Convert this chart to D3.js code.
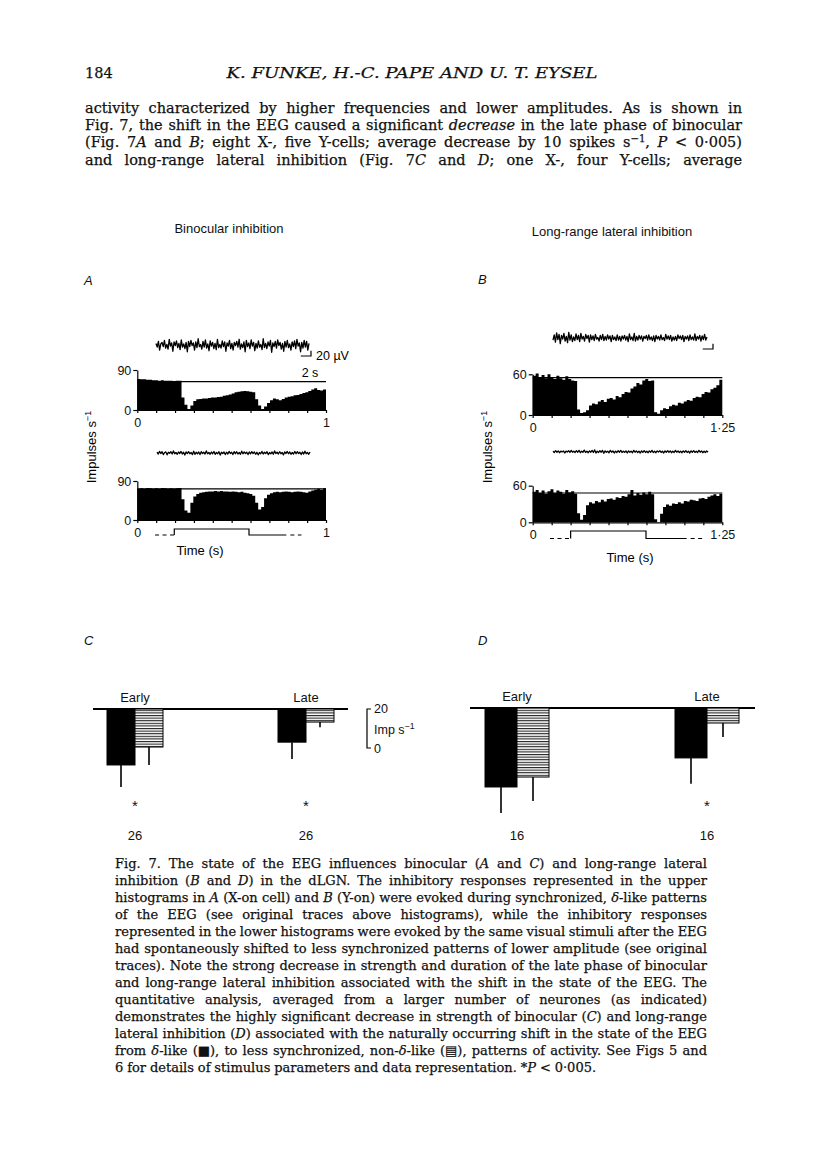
<!DOCTYPE html>
<html>
<head>
<meta charset="utf-8">
<script src="https://cdn.jsdelivr.net/npm/d3@7"></script>
<style>
  body { margin: 0; background: #fff; }
  svg { display: block; }
</style>
</head>
<body>
<svg id="page" width="816" height="1169"></svg>
<script>
// ---------------- page text ----------------
const pageNumber = "184";
const runningHead = "K. FUNKE, H.-C. PAPE AND U. T. EYSEL";
const bodyLines = [
  "activity characterized by higher frequencies and lower amplitudes. As is shown in",
  "Fig. 7, the shift in the EEG caused a significant _decrease_ in the late phase of binocular",
  "(Fig. 7_A_ and _B_; eight X-, five Y-cells; average decrease by 10 spikes s^−1^, _P_ < 0·005)",
  "and long-range lateral inhibition (Fig. 7_C_ and _D_; one X-, four Y-cells; average"
];
const captionLines = [
  "Fig. 7. The state of the EEG influences binocular (_A_ and _C_) and long-range lateral",
  "inhibition (_B_ and _D_) in the dLGN. The inhibitory responses represented in the upper",
  "histograms in _A_ (X-on cell) and _B_ (Y-on) were evoked during synchronized, _δ_-like patterns",
  "of the EEG (see original traces above histograms), while the inhibitory responses",
  "represented in the lower histograms were evoked by the same visual stimuli after the EEG",
  "had spontaneously shifted to less synchronized patterns of lower amplitude (see original",
  "traces). Note the strong decrease in strength and duration of the late phase of binocular",
  "and long-range lateral inhibition associated with the shift in the state of the EEG. The",
  "quantitative analysis, averaged from a larger number of neurones (as indicated)",
  "demonstrates the highly significant decrease in strength of binocular (_C_) and long-range",
  "lateral inhibition (_D_) associated with the naturally occurring shift in the state of the EEG",
  "from _δ_-like (■), to less synchronized, non-_δ_-like (▤), patterns of activity. See Figs 5 and",
  "6 for details of stimulus parameters and data representation. *_P_ < 0·005."
];

// ---------------- panels A / B : histograms (impulses s-1, 64 bins per sweep) ----------------
const binoDeltaHist = [70,69,69,68,68,67,67,66,67,66,66,66,65,66,66,28,12,2,10,20,24,25,26,26,27,28,28,29,30,32,33,35,
  37,40,41,42,43,42,41,40,24,10,2,8,16,22,26,24,22,25,28,30,31,33,34,36,38,40,43,46,49,45,44,46];
const binoNonDeltaHist = [72,73,72,74,73,72,73,72,74,73,72,73,72,73,74,48,22,17,40,54,60,63,64,65,66,66,67,66,67,66,66,65,
  66,65,64,65,63,62,60,56,40,24,30,50,58,62,64,65,64,65,66,65,64,65,66,65,64,63,66,68,70,72,70,73];
const lateralDeltaHist = [58,61,56,59,54,60,55,53,58,54,52,57,53,51,50,8,3,4,7,14,17,16,20,22,19,24,25,23,28,26,31,34,
  33,39,42,47,45,51,53,50,51,4,2,7,10,9,13,15,14,18,17,20,22,21,25,27,26,31,34,33,38,40,44,52];
const lateralNonDeltaHist = [50,53,48,52,47,51,54,48,52,50,47,53,49,51,47,15,4,12,28,33,31,35,33,37,34,38,39,37,41,40,43,42,
  46,53,44,48,45,49,46,50,46,5,0,14,25,29,27,31,30,33,31,35,34,37,36,35,39,40,38,42,44,46,43,47];
const binoRefLevels = [64, 72];
const lateralRefLevels = [55, 48];

// EEG traces (µV)
const binoDeltaEEG = [6,-8,14,-20,4,10,-6,18,-12,2,-16,22,-4,8,-24,12,-2,16,-10,6,-18,20,-8,4,-14,10,-26,14,-6,18,-2,8,
  -20,12,-10,24,-6,2,-16,14,-8,20,-12,4,-22,16,-4,10,-14,6,-18,22,-10,2,-12,16,-6,12,-24,8,-4,18,-14,6,-20,10,-2,14,-8,22,
  -16,4,-10,12,-26,18,-6,8,-14,20,-4,10,-22,6,-12,16,-8,2,-18,24,-10,6,-14,12,-4,18,-28,8,-6,14,-12,20,-2,10,-16,6,-24,14,
  -8,18,-10,4,-20,12,-6,16,-14,22,-4,8,-26,10,-12,18,-8,14,-20,6];
const binoNonDeltaEEG = [3,-4,6,-2,5,-6,2,4,-7,3,-1,5,-4,8,-3,2,-5,4,-2,6,-4,3,-8,4,-2,5,-3,2,-6,7,-5,3,-3,4,-6,5,-2,3,
  -4,8,-3,2,-5,4,-3,6,-5,2,-3,5,-8,3,-2,4,-6,3,-4,6,-2,3,-6,5,-3,5,-4,2,-5,7,-3,4,-2,3,-6,4,-3,5,-2,4,-5,3,-7,2,-3,6,-4,3,
  -2,5,-6,2,-3,4,-5,8,-2,3,-4,5,-3,2,-7,4,-2,6,-3,4,-5,2,-4,6,-3,5,-2,3,-6,4,-4,7,-3,2,-5,4];
const lateralDeltaEEG = [-8,12,-16,20,-6,14,-22,10,-4,18,-12,6,-18,22,-8,12,-14,4,-10,16,-6,10,-14,18,-4,6,-12,14,-2,10,
  -16,12,-6,8,-10,14,-4,2,-12,10,-6,14,-10,6,-8,12,-4,8,-14,10,-6,4,-10,12,-8,6,-12,8,-4,10,-8,6,-14,16,-6,4,-10,18,-12,6,
  -8,10,-4,8,-12,6,-2,10,-8,12,-6,4,-10,8,-14,10,-4,6,-8,12,-6,2,-10,14,-4,8,-6,10,-12,4,-8,6,-10,12,-2,8,-6,10,-14,6,-4,8,
  -10,12,-6,4,-8,16,-10,6,-4,10,-12,8,-6,14,-8,4];
const lateralNonDeltaEEG = [2,-3,4,-2,3,-4,2,-1,3,-5,2,-1,4,-3,5,-2,2,-3,4,-2,5,-4,2,-2,6,-3,2,-4,3,-2,5,-3,7,-5,2,-3,4,-2,
  5,-6,3,-2,2,-4,5,-2,3,-5,2,-3,4,-2,5,-3,2,-2,3,-5,3,-2,2,-4,5,-2,3,-3,2,-5,3,-2,4,-3,2,-4,3,-2,5,-3,2,-4,3,-1,4,-3,2,-5,
  3,-2,4,-2,3,-4,2,-3,5,-2,3,-3,2,-4,3,-2,4,-3,2,-5,3,-2,4,-3,2,-3,5,-2,3,-4,2,-3,3,-2];
const eegDuration = 30; // s shown by each trace

// stimulus timing (s): dashes start, onset, offset, solid end, dashes end
const binoStim = [0.094, 0.196, 0.592, 0.79, 0.87];
const lateralStim = [0.114, 0.25, 0.747, 1.015, 1.136];

// ---------------- panels C / D : mean inhibition (imp s-1) ----------------
const phases = ["Early", "Late"];
const binoDelta = [28.7, 17.0], binoDeltaErr = [11.3, 8.7];
const binoNonDelta = [19.5, 6.7], binoNonDeltaErr = [9.2, 2.6];
const lateralDelta = [40.5, 25.6], lateralDeltaErr = [13.3, 13.3];
const lateralNonDelta = [35.4, 7.7], lateralNonDeltaErr = [12.3, 7.2];
const binoSig = ["*", "*"], lateralSig = ["", "*"];
const binoN = [26, 26], lateralN = [16, 16];

// ------------------------------------------------------------------
const svg = d3.select("#page");
const SANS = "'Liberation Sans', Arial, sans-serif";
const SERIF = "'DejaVu Serif', serif";

const defs = svg.append("defs");
const hatch = defs.append("pattern").attr("id", "hatch")
    .attr("patternUnits", "userSpaceOnUse").attr("width", 4).attr("height", 2.6);
hatch.append("rect").attr("width", 4).attr("height", 2.6).attr("fill", "#fff");
hatch.append("rect").attr("width", 4).attr("height", 1.1).attr("fill", "#222");

// text with _italic_ and ^superscript^ markup
function richText(t, str) {
  str.split(/(_[^_]+_|\^[^^]+\^)/).filter(s => s.length).forEach(p => {
    if (p[0] === "_") t.append("tspan").attr("font-style", "italic").text(p.slice(1, -1));
    else if (p[0] === "^") t.append("tspan").attr("font-size", "70%").attr("baseline-shift", "super").text(p.slice(1, -1));
    else t.append("tspan").text(p);
  });
  return t;
}

function setLine(g, str, x0, x1, y, size, justify) {
  const words = str.split(" ");
  let nodes, widths, gap;
  for (;;) {
    nodes = words.map(w => richText(g.append("text").attr("y", y).attr("font-size", size), w));
    widths = nodes.map(t => t.node().getComputedTextLength());
    gap = justify ? (x1 - x0 - d3.sum(widths)) / (words.length - 1) : size * 0.3;
    if (gap >= size * 0.2 || size < 9) break;
    nodes.forEach(t => t.remove());
    size -= 0.25;
  }
  let x = x0;
  nodes.forEach((t, i) => { t.attr("x", x); x += widths[i] + gap; });
}

// ---------------- page text ----------------
const txt = svg.append("g").attr("font-family", SERIF).attr("fill", "#111")
    .attr("stroke", "#111").attr("stroke-width", 0.25);
txt.append("text").attr("x", 85).attr("y", 78).attr("font-size", 14.5).text(pageNumber);
txt.append("text").attr("x", 412).attr("y", 78).attr("font-size", 14.5).attr("font-style", "italic")
    .attr("text-anchor", "middle").attr("textLength", 371).attr("lengthAdjust", "spacingAndGlyphs").text(runningHead);
bodyLines.forEach((l, i) => setLine(txt, l, 85, 742, 113 + i * 17.2, 14.5, true));
captionLines.forEach((l, i) => setLine(txt, l, 115, 707, 868 + i * 17.03, 13, i < captionLines.length - 1));

// ---------------- figure labels ----------------
const fig = svg.append("g").attr("font-family", SANS).attr("fill", "#111");
fig.append("text").attr("x", 229).attr("y", 233).attr("font-size", 13).attr("text-anchor", "middle").text("Binocular inhibition");
fig.append("text").attr("x", 612).attr("y", 236).attr("font-size", 13).attr("text-anchor", "middle").text("Long-range lateral inhibition");
[["A", 84, 285], ["B", 478, 284], ["C", 84, 645], ["D", 478, 645]].forEach(([s, x, y]) =>
  fig.append("text").attr("x", x).attr("y", y).attr("font-size", 13).attr("font-style", "italic").text(s));

// ---------------- histogram panels ----------------
function histogram(g, o) {
  const x = d3.scaleLinear().domain([0, o.sweep]).range([o.x0, o.x1]);
  const y = d3.scaleLinear().domain([0, o.ymax]).range([o.yBase, o.yTop]);
  const bw = o.sweep / o.values.length;
  const pts = o.values.map((v, i) => [i * bw, v]);
  pts.push([o.sweep, o.values[o.values.length - 1]]);
  g.append("path").datum(pts)
      .attr("d", d3.area().x(d => x(d[0])).y0(y(0)).y1(d => y(d[1])).curve(d3.curveStepAfter))
      .attr("fill", "#000");
  g.append("line").attr("x1", x(0)).attr("x2", x(o.sweep)).attr("y1", y(o.ref)).attr("y2", y(o.ref))
      .attr("stroke", "#000").attr("stroke-width", 1.2);

  const ya = g.append("g").attr("transform", `translate(${o.x0},0)`)
      .call(d3.axisLeft(y).tickValues([0, o.ymax]).tickSize(4).tickSizeOuter(0).tickPadding(2));
  const xa = g.append("g").attr("transform", `translate(0,${o.yBase})`)
      .call(d3.axisBottom(x).tickValues(d3.range(0, o.sweep + 1e-6, o.tickStep)).tickSize(3).tickSizeOuter(0)
        .tickPadding(5).tickFormat(d => (d === 0 ? "0" : Math.abs(d - o.sweep) < 1e-6 ? o.endLabel : "")));
  [ya, xa].forEach(a => {
    a.attr("font-family", SANS).attr("font-size", 12.5);
    a.selectAll("path,line").attr("stroke", "#000").attr("stroke-width", 1.2);
    a.selectAll("text").attr("fill", "#111");
  });
  return x;
}

function eegTrace(g, values, o) {
  const x = d3.scaleLinear().domain([0, values.length - 1]).range([o.x0, o.x1]);
  const y = d3.scaleLinear().domain([-20, 20]).range([o.yc + 5.2, o.yc - 5.2]);
  g.append("path").datum(values)
      .attr("d", d3.line().x((d, i) => x(i)).y(d => y(d)))
      .attr("fill", "none").attr("stroke", "#000").attr("stroke-width", 1.3).attr("stroke-linejoin", "round");
}

function scaleBar(g, o) {
  const t = d3.scaleLinear().domain([0, eegDuration]).range([o.x0, o.x1]);
  const v = d3.scaleLinear().domain([0, 20]).range([0, 10.4]);
  g.append("path")
      .attr("d", `M${o.cx - (t(2) - t(0))},${o.cy}H${o.cx}V${o.cy - v(20) / 2}`)
      .attr("fill", "none").attr("stroke", "#000").attr("stroke-width", 1.2);
}

function stimulus(g, x, s, yLow, yHigh) {
  g.append("line").attr("x1", x(s[0])).attr("x2", x(s[1])).attr("y1", yLow).attr("y2", yLow)
      .attr("stroke", "#000").attr("stroke-width", 1.2).attr("stroke-dasharray", "4,3.5");
  g.append("path").attr("d", `M${x(s[1])},${yLow}V${yHigh}H${x(s[2])}V${yLow}H${x(s[3])}`)
      .attr("fill", "none").attr("stroke", "#000").attr("stroke-width", 1.2);
  g.append("line").attr("x1", x(s[3]) + 4).attr("x2", x(s[4])).attr("y1", yLow).attr("y2", yLow)
      .attr("stroke", "#000").attr("stroke-width", 1.2).attr("stroke-dasharray", "4,3.5");
}

// panel A
const gA = svg.append("g");
eegTrace(gA, binoDeltaEEG, { x0: 156, x1: 309, yc: 345 });
scaleBar(gA, { x0: 156, x1: 309, cx: 311, cy: 356 });
gA.append("text").attr("x", 316).attr("y", 360).attr("font-family", SANS).attr("font-size", 12.5).text("20 µV");
gA.append("text").attr("x", 310).attr("y", 377).attr("font-family", SANS).attr("font-size", 12.5).attr("text-anchor", "middle").text("2 s");
histogram(gA, { values: binoDeltaHist, ref: binoRefLevels[0], sweep: 1, ymax: 90, tickStep: 0.1, endLabel: "1",
  x0: 137.3, x1: 326, yBase: 410, yTop: 370 });
eegTrace(gA, binoNonDeltaEEG, { x0: 157, x1: 310, yc: 453 });
const xA2 = histogram(gA, { values: binoNonDeltaHist, ref: binoRefLevels[1], sweep: 1, ymax: 90, tickStep: 0.1, endLabel: "1",
  x0: 137.3, x1: 326, yBase: 520, yTop: 481 });
stimulus(gA, xA2, binoStim, 535, 529);
gA.append("text").attr("x", 200).attr("y", 555).attr("font-family", SANS).attr("font-size", 13).attr("text-anchor", "middle").text("Time (s)");
richText(gA.append("text").attr("transform", "translate(96,447) rotate(-90)").attr("font-family", SANS)
    .attr("font-size", 13).attr("text-anchor", "middle"), "Impulses s^−1^");

// panel B
const gB = svg.append("g");
eegTrace(gB, lateralDeltaEEG, { x0: 553, x1: 707, yc: 338 });
scaleBar(gB, { x0: 553, x1: 707, cx: 713, cy: 349 });
histogram(gB, { values: lateralDeltaHist, ref: lateralRefLevels[0], sweep: 1.25, ymax: 60, tickStep: 0.125, endLabel: "1·25",
  x0: 532.7, x1: 722.3, yBase: 415, yTop: 374.3 });
eegTrace(gB, lateralNonDeltaEEG, { x0: 553, x1: 708, yc: 451.7 });
const xB2 = histogram(gB, { values: lateralNonDeltaHist, ref: lateralRefLevels[1], sweep: 1.25, ymax: 60, tickStep: 0.125, endLabel: "1·25",
  x0: 532.7, x1: 722.3, yBase: 522.3, yTop: 485.7 });
stimulus(gB, xB2, lateralStim, 538.5, 531);
gB.append("text").attr("x", 630).attr("y", 562).attr("font-family", SANS).attr("font-size", 13).attr("text-anchor", "middle").text("Time (s)");
richText(gB.append("text").attr("transform", "translate(492,447) rotate(-90)").attr("font-family", SANS)
    .attr("font-size", 13).attr("text-anchor", "middle"), "Impulses s^−1^");

// ---------------- bar panels ----------------
const barScale = d3.scaleLinear().domain([0, 20]).range([0, 39]);

function barPanel(g, o) {
  const x = d3.scalePoint().domain(phases).range(o.centers);
  g.append("line").attr("x1", o.x0).attr("x2", o.x1).attr("y1", o.y).attr("y2", o.y)
      .attr("stroke", "#000").attr("stroke-width", 2);
  o.series.forEach((s, j) => {
    phases.forEach((p, i) => {
      const bx = x(p) - o.bw + j * o.bw;
      g.append("rect").attr("x", bx).attr("y", o.y).attr("width", o.bw).attr("height", barScale(s.vals[i]))
          .attr("fill", j === 0 ? "#000" : "url(#hatch)").attr("stroke", "#000").attr("stroke-width", 1);
      g.append("line").attr("x1", bx + o.bw / 2).attr("x2", bx + o.bw / 2)
          .attr("y1", o.y + barScale(s.vals[i])).attr("y2", o.y + barScale(s.vals[i] + s.errs[i]))
          .attr("stroke", "#000").attr("stroke-width", 1.6);
    });
  });
  phases.forEach((p, i) => {
    const t = g.append("g").attr("font-family", SANS).attr("font-size", 13).attr("text-anchor", "middle").attr("fill", "#111");
    t.append("text").attr("x", x(p)).attr("y", o.y - 7).text(p);
    t.append("text").attr("x", x(p)).attr("y", 811).attr("font-size", 15).text(o.sig[i]);
    t.append("text").attr("x", x(p)).attr("y", 840).text(o.n[i]);
  });
}

const gC = svg.append("g");
barPanel(gC, { centers: [135, 306], bw: 28, x0: 93, x1: 348, y: 709,
  series: [{ vals: binoDelta, errs: binoDeltaErr }, { vals: binoNonDelta, errs: binoNonDeltaErr }],
  sig: binoSig, n: binoN });
// calibration bracket
gC.append("path").attr("d", `M371,709H367V${709 + barScale(20)}H371`)
    .attr("fill", "none").attr("stroke", "#000").attr("stroke-width", 1.2);
const calT = gC.append("g").attr("font-family", SANS).attr("font-size", 12.5).attr("fill", "#111");
calT.append("text").attr("x", 374).attr("y", 713).text("20");
richText(calT.append("text").attr("x", 374).attr("y", 734), "Imp s^−1^");
calT.append("text").attr("x", 374).attr("y", 753).text("0");

const gD = svg.append("g");
barPanel(gD, { centers: [517, 707], bw: 32, x0: 470, x1: 755, y: 708,
  series: [{ vals: lateralDelta, errs: lateralDeltaErr }, { vals: lateralNonDelta, errs: lateralNonDeltaErr }],
  sig: lateralSig, n: lateralN });
</script>
</body>
</html>
